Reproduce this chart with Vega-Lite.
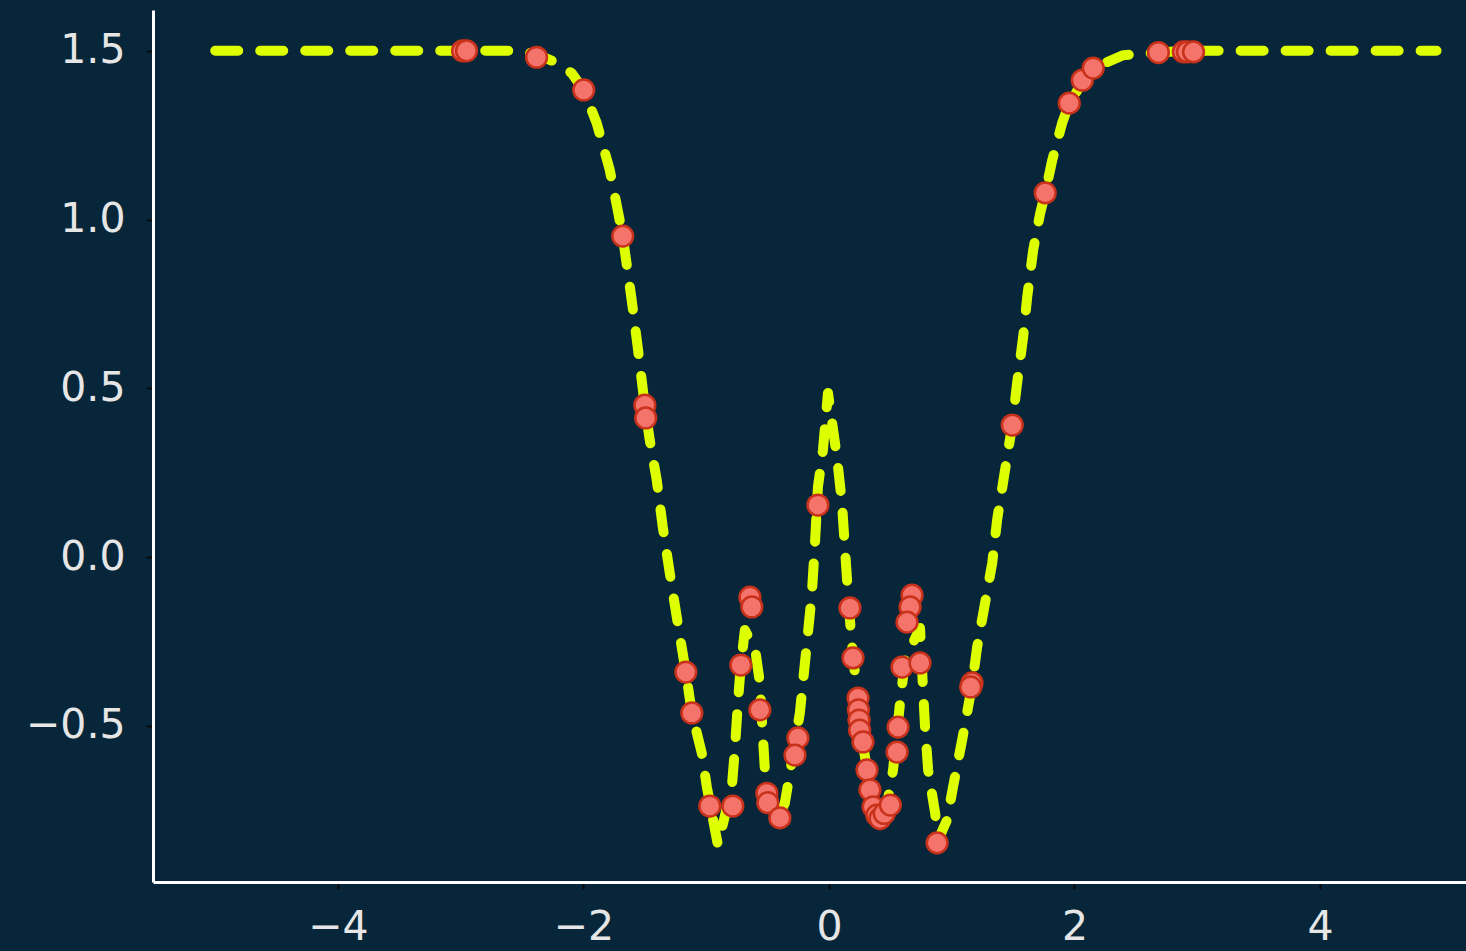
{
  "$schema": "https://vega.github.io/schema/vega-lite/v6.json",
  "width": 1313,
  "height": 872,
  "autosize": {"type": "none"},
  "padding": {"left": 153, "top": 10, "right": 0, "bottom": 69},
  "background": "#07263A",
  "config": {"view": {"stroke": null}},
  "datasets": {
    "curve": [
      {"x": -5.0, "y": 1.5}, {"x": -3.5, "y": 1.5}, {"x": -2.6, "y": 1.5}, {"x": -2.4, "y": 1.492},
      {"x": -2.251, "y": 1.47}, {"x": -2.096, "y": 1.434}, {"x": -1.998, "y": 1.384}, {"x": -1.892, "y": 1.286},
      {"x": -1.786, "y": 1.147}, {"x": -1.721, "y": 1.028}, {"x": -1.68, "y": 0.951}, {"x": -1.607, "y": 0.761},
      {"x": -1.558, "y": 0.622}, {"x": -1.501, "y": 0.45}, {"x": -1.46, "y": 0.347}, {"x": -1.403, "y": 0.228},
      {"x": -1.354, "y": 0.089}, {"x": -1.297, "y": -0.047}, {"x": -1.24, "y": -0.178}, {"x": -1.166, "y": -0.341},
      {"x": -1.117, "y": -0.462}, {"x": -1.036, "y": -0.581}, {"x": -0.995, "y": -0.681}, {"x": -0.905, "y": -0.853},
      {"x": -0.791, "y": -0.681}, {"x": -0.767, "y": -0.572}, {"x": -0.742, "y": -0.433}, {"x": -0.718, "y": -0.32},
      {"x": -0.685, "y": -0.216}, {"x": -0.6, "y": -0.276}, {"x": -0.563, "y": -0.373}, {"x": -0.546, "y": -0.483},
      {"x": -0.522, "y": -0.631}, {"x": -0.48, "y": -0.73}, {"x": -0.43, "y": -0.78}, {"x": -0.36, "y": -0.73},
      {"x": -0.318, "y": -0.64}, {"x": -0.237, "y": -0.462}, {"x": -0.171, "y": -0.225}, {"x": -0.139, "y": -0.107},
      {"x": -0.114, "y": 0.041}, {"x": -0.09, "y": 0.207}, {"x": -0.049, "y": 0.317}, {"x": -0.008, "y": 0.486},
      {"x": 0.065, "y": 0.296}, {"x": 0.106, "y": 0.16}, {"x": 0.131, "y": 0.021}, {"x": 0.163, "y": -0.151},
      {"x": 0.196, "y": -0.296}, {"x": 0.24, "y": -0.43}, {"x": 0.28, "y": -0.56}, {"x": 0.33, "y": -0.68},
      {"x": 0.416, "y": -0.78}, {"x": 0.47, "y": -0.74}, {"x": 0.522, "y": -0.631}, {"x": 0.579, "y": -0.433},
      {"x": 0.62, "y": -0.305}, {"x": 0.742, "y": -0.21}, {"x": 0.765, "y": -0.38}, {"x": 0.783, "y": -0.504},
      {"x": 0.808, "y": -0.631}, {"x": 0.865, "y": -0.759}, {"x": 0.889, "y": -0.839}, {"x": 0.962, "y": -0.779},
      {"x": 1.011, "y": -0.681}, {"x": 1.085, "y": -0.542}, {"x": 1.166, "y": -0.379}, {"x": 1.207, "y": -0.267},
      {"x": 1.272, "y": -0.136}, {"x": 1.33, "y": -0.018}, {"x": 1.37, "y": 0.11}, {"x": 1.493, "y": 0.391},
      {"x": 1.533, "y": 0.516}, {"x": 1.582, "y": 0.652}, {"x": 1.615, "y": 0.77}, {"x": 1.664, "y": 0.91},
      {"x": 1.721, "y": 1.019}, {"x": 1.762, "y": 1.079}, {"x": 1.819, "y": 1.176}, {"x": 1.9, "y": 1.286},
      {"x": 1.958, "y": 1.345}, {"x": 2.088, "y": 1.419}, {"x": 2.153, "y": 1.449}, {"x": 2.398, "y": 1.487},
      {"x": 2.684, "y": 1.495}, {"x": 2.9, "y": 1.5}, {"x": 3.5, "y": 1.5}, {"x": 4.95, "y": 1.5}
    ],
    "pts": [
      {"x": -2.985, "y": 1.5}, {"x": -2.953, "y": 1.5}, {"x": -2.382, "y": 1.481}, {"x": -1.998, "y": 1.384},
      {"x": -1.68, "y": 0.951}, {"x": -1.5, "y": 0.45}, {"x": -1.493, "y": 0.412}, {"x": -1.166, "y": -0.341},
      {"x": -1.117, "y": -0.462}, {"x": -0.971, "y": -0.738}, {"x": -0.783, "y": -0.738}, {"x": -0.718, "y": -0.32},
      {"x": -0.644, "y": -0.119}, {"x": -0.628, "y": -0.148}, {"x": -0.563, "y": -0.453}, {"x": -0.506, "y": -0.7},
      {"x": -0.498, "y": -0.728}, {"x": -0.4, "y": -0.773}, {"x": -0.253, "y": -0.536}, {"x": -0.277, "y": -0.587},
      {"x": -0.09, "y": 0.154}, {"x": 0.171, "y": -0.151}, {"x": 0.196, "y": -0.299}, {"x": 0.237, "y": -0.418},
      {"x": 0.24, "y": -0.453}, {"x": 0.245, "y": -0.483}, {"x": 0.25, "y": -0.513}, {"x": 0.277, "y": -0.548},
      {"x": 0.31, "y": -0.631}, {"x": 0.334, "y": -0.69}, {"x": 0.36, "y": -0.74}, {"x": 0.39, "y": -0.765},
      {"x": 0.416, "y": -0.775}, {"x": 0.45, "y": -0.76}, {"x": 0.5, "y": -0.735}, {"x": 0.563, "y": -0.504},
      {"x": 0.555, "y": -0.578}, {"x": 0.595, "y": -0.326}, {"x": 0.742, "y": -0.314}, {"x": 0.677, "y": -0.113},
      {"x": 0.661, "y": -0.148}, {"x": 0.636, "y": -0.193}, {"x": 1.166, "y": -0.373}, {"x": 1.155, "y": -0.385},
      {"x": 0.881, "y": -0.847}, {"x": 1.493, "y": 0.391}, {"x": 1.762, "y": 1.079}, {"x": 1.958, "y": 1.345},
      {"x": 2.064, "y": 1.413}, {"x": 2.153, "y": 1.449}, {"x": 2.684, "y": 1.495}, {"x": 2.887, "y": 1.497},
      {"x": 2.92, "y": 1.497}, {"x": 2.97, "y": 1.497}
    ]
  },
  "layer": [
    {
      "data": {"name": "curve"},
      "mark": {"type": "line", "color": "#DDFF00", "strokeWidth": 10, "strokeDash": [23, 22], "strokeCap": "round", "strokeJoin": "round", "clip": true},
      "encoding": {
        "x": {
          "field": "x", "type": "quantitative",
          "scale": {"domain": [-5.507, 5.19], "nice": false, "zero": false},
          "axis": {
            "values": [-4, -2, 0, 2, 4], "format": "d", "title": null, "grid": false,
            "domainColor": "#FFFFFF", "domainWidth": 3, "tickColor": "#0A0A0A", "tickWidth": 2, "tickSize": 7,
            "labelColor": "#E6E6E6", "labelFont": "DejaVu Sans", "labelFontSize": 41, "labelPadding": 18
          }
        },
        "y": {
          "field": "y", "type": "quantitative",
          "scale": {"domain": [-0.963, 1.621], "nice": false, "zero": false},
          "axis": {
            "values": [-0.5, 0, 0.5, 1, 1.5], "format": ".1f", "title": null, "grid": false,
            "domainColor": "#FFFFFF", "domainWidth": 3, "tickColor": "#0A0A0A", "tickWidth": 2, "tickSize": 7,
            "labelColor": "#E6E6E6", "labelFont": "DejaVu Sans", "labelFontSize": 41, "labelPadding": 21
          }
        }
      }
    },
    {
      "data": {"name": "pts"},
      "mark": {"type": "point", "shape": "circle", "filled": true, "fill": "#F4736B", "stroke": "#C8321A", "strokeWidth": 2.5, "size": 430, "opacity": 1},
      "encoding": {
        "x": {"field": "x", "type": "quantitative"},
        "y": {"field": "y", "type": "quantitative"}
      }
    }
  ]
}
